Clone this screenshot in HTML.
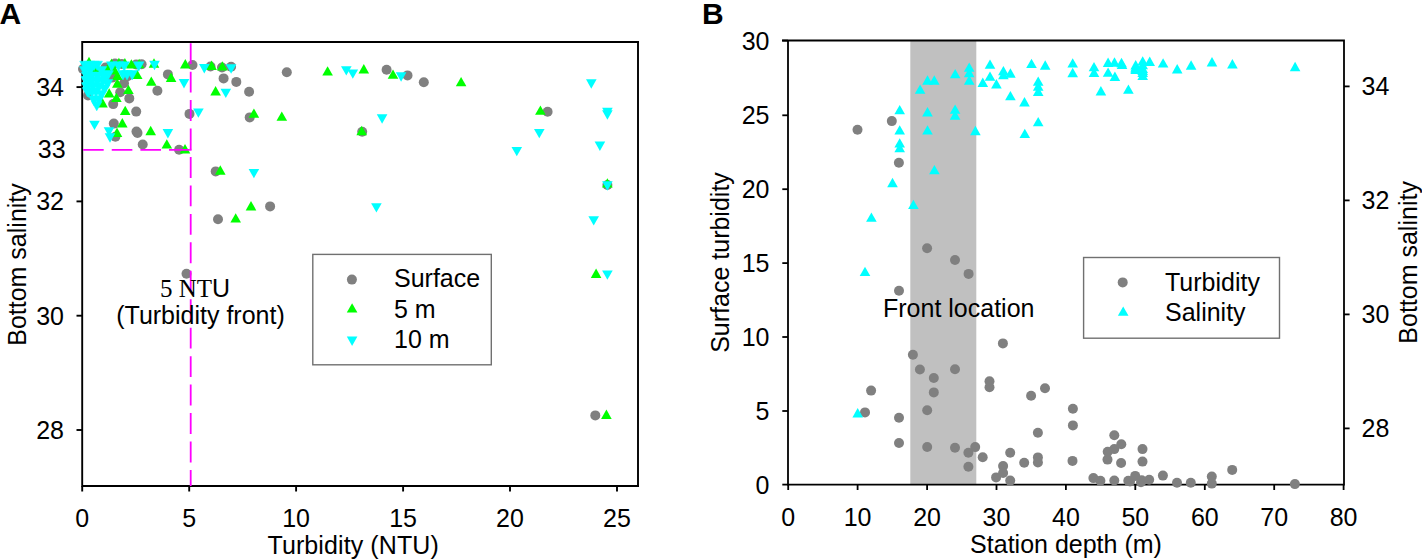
<!DOCTYPE html><html><head><meta charset="utf-8"><style>html,body{margin:0;padding:0;background:#fff;overflow:hidden}svg{display:block}text{font-family:"Liberation Sans",sans-serif;fill:#000}</style></head><body>
<svg width="1422" height="560" viewBox="0 0 1422 560">
<rect width="1422" height="560" fill="#fff"/>
<g stroke="#000" stroke-width="1.9" fill="none">
<path d="M82.2,41 V486 M81.3,42 H639 M638,41.1 V486.9 M81.3,486 H639"/>
<path d="M82.2,486 V491.5"/>
<path d="M189.2,486 V491.5"/>
<path d="M296.1,486 V491.5"/>
<path d="M403.1,486 V491.5"/>
<path d="M510.0,486 V491.5"/>
<path d="M617.0,486 V491.5"/>
<path d="M76.5,87.1 H82.2"/>
<path d="M76.5,201.4 H82.2"/>
<path d="M76.5,315.7 H82.2"/>
<path d="M76.5,430.0 H82.2"/>
</g>
<circle cx="83.0" cy="69.0" r="5.0" fill="#808080"/>
<circle cx="88.0" cy="95.5" r="5.0" fill="#808080"/>
<circle cx="105.5" cy="67.5" r="5.0" fill="#808080"/>
<circle cx="112.0" cy="77.6" r="5.0" fill="#808080"/>
<circle cx="115.0" cy="63.5" r="5.0" fill="#808080"/>
<circle cx="121.7" cy="64.0" r="5.0" fill="#808080"/>
<circle cx="136.2" cy="64.5" r="5.0" fill="#808080"/>
<circle cx="124.0" cy="83.2" r="5.0" fill="#808080"/>
<circle cx="120.2" cy="92.2" r="5.0" fill="#808080"/>
<circle cx="129.3" cy="98.4" r="5.0" fill="#808080"/>
<circle cx="113.2" cy="104.1" r="5.0" fill="#808080"/>
<circle cx="136.2" cy="111.6" r="5.0" fill="#808080"/>
<circle cx="127.6" cy="76.2" r="5.0" fill="#808080"/>
<circle cx="141.6" cy="64.3" r="5.0" fill="#808080"/>
<circle cx="167.9" cy="74.4" r="5.0" fill="#808080"/>
<circle cx="157.4" cy="90.7" r="5.0" fill="#808080"/>
<circle cx="192.5" cy="65.0" r="5.0" fill="#808080"/>
<circle cx="210.5" cy="66.5" r="5.0" fill="#808080"/>
<circle cx="222.0" cy="67.5" r="5.0" fill="#808080"/>
<circle cx="223.6" cy="78.4" r="5.0" fill="#808080"/>
<circle cx="231.1" cy="66.8" r="5.0" fill="#808080"/>
<circle cx="236.3" cy="81.9" r="5.0" fill="#808080"/>
<circle cx="249.1" cy="91.8" r="5.0" fill="#808080"/>
<circle cx="286.8" cy="72.2" r="5.0" fill="#808080"/>
<circle cx="386.6" cy="69.8" r="5.0" fill="#808080"/>
<circle cx="407.5" cy="75.4" r="5.0" fill="#808080"/>
<circle cx="423.8" cy="82.2" r="5.0" fill="#808080"/>
<circle cx="547.6" cy="111.7" r="5.0" fill="#808080"/>
<circle cx="607.4" cy="185.0" r="5.0" fill="#808080"/>
<circle cx="595.3" cy="415.4" r="5.0" fill="#808080"/>
<circle cx="189.5" cy="113.9" r="5.0" fill="#808080"/>
<circle cx="113.8" cy="123.6" r="5.0" fill="#808080"/>
<circle cx="115.4" cy="136.7" r="5.0" fill="#808080"/>
<circle cx="136.5" cy="131.5" r="5.0" fill="#808080"/>
<circle cx="137.5" cy="133.0" r="5.0" fill="#808080"/>
<circle cx="142.7" cy="144.5" r="5.0" fill="#808080"/>
<circle cx="179.1" cy="149.8" r="5.0" fill="#808080"/>
<circle cx="249.7" cy="117.4" r="5.0" fill="#808080"/>
<circle cx="362.2" cy="131.8" r="5.0" fill="#808080"/>
<circle cx="215.7" cy="171.4" r="5.0" fill="#808080"/>
<circle cx="270.1" cy="206.4" r="5.0" fill="#808080"/>
<circle cx="218.0" cy="219.3" r="5.0" fill="#808080"/>
<circle cx="186.5" cy="273.8" r="5.0" fill="#808080"/>
<polygon points="89.00,56.80 94.30,66.20 83.70,66.20" fill="#00ff00"/>
<polygon points="95.50,63.90 100.80,73.30 90.20,73.30" fill="#00ff00"/>
<polygon points="107.50,64.10 112.80,73.50 102.20,73.50" fill="#00ff00"/>
<polygon points="111.50,58.50 116.80,67.90 106.20,67.90" fill="#00ff00"/>
<polygon points="114.40,65.00 119.70,74.40 109.10,74.40" fill="#00ff00"/>
<polygon points="118.90,57.70 124.20,67.10 113.60,67.10" fill="#00ff00"/>
<polygon points="124.90,58.00 130.20,67.40 119.60,67.40" fill="#00ff00"/>
<polygon points="131.40,59.20 136.70,68.60 126.10,68.60" fill="#00ff00"/>
<polygon points="139.10,58.80 144.40,68.20 133.80,68.20" fill="#00ff00"/>
<polygon points="137.20,69.70 142.50,79.10 131.90,79.10" fill="#00ff00"/>
<polygon points="117.40,70.60 122.70,80.00 112.10,80.00" fill="#00ff00"/>
<polygon points="117.30,78.30 122.60,87.70 112.00,87.70" fill="#00ff00"/>
<polygon points="128.40,84.70 133.70,94.10 123.10,94.10" fill="#00ff00"/>
<polygon points="109.20,88.20 114.50,97.60 103.90,97.60" fill="#00ff00"/>
<polygon points="116.40,92.70 121.70,102.10 111.10,102.10" fill="#00ff00"/>
<polygon points="102.50,98.00 107.80,107.40 97.20,107.40" fill="#00ff00"/>
<polygon points="125.20,105.70 130.50,115.10 119.90,115.10" fill="#00ff00"/>
<polygon points="154.00,58.30 159.30,67.70 148.70,67.70" fill="#00ff00"/>
<polygon points="185.30,59.00 190.60,68.40 180.00,68.40" fill="#00ff00"/>
<polygon points="211.60,60.50 216.90,69.90 206.30,69.90" fill="#00ff00"/>
<polygon points="222.30,61.20 227.60,70.60 217.00,70.60" fill="#00ff00"/>
<polygon points="171.10,72.60 176.40,82.00 165.80,82.00" fill="#00ff00"/>
<polygon points="151.30,76.40 156.60,85.80 146.00,85.80" fill="#00ff00"/>
<polygon points="215.60,86.00 220.90,95.40 210.30,95.40" fill="#00ff00"/>
<polygon points="327.60,66.20 332.90,75.60 322.30,75.60" fill="#00ff00"/>
<polygon points="363.80,64.10 369.10,73.50 358.50,73.50" fill="#00ff00"/>
<polygon points="393.00,69.40 398.30,78.80 387.70,78.80" fill="#00ff00"/>
<polygon points="461.10,76.90 466.40,86.30 455.80,86.30" fill="#00ff00"/>
<polygon points="540.40,105.40 545.70,114.80 535.10,114.80" fill="#00ff00"/>
<polygon points="607.40,178.20 612.70,187.60 602.10,187.60" fill="#00ff00"/>
<polygon points="596.10,268.50 601.40,277.90 590.80,277.90" fill="#00ff00"/>
<polygon points="606.40,409.60 611.70,419.00 601.10,419.00" fill="#00ff00"/>
<polygon points="122.30,118.00 127.60,127.40 117.00,127.40" fill="#00ff00"/>
<polygon points="117.00,127.50 122.30,136.90 111.70,136.90" fill="#00ff00"/>
<polygon points="150.70,125.80 156.00,135.20 145.40,135.20" fill="#00ff00"/>
<polygon points="166.80,139.20 172.10,148.60 161.50,148.60" fill="#00ff00"/>
<polygon points="185.00,144.10 190.30,153.50 179.70,153.50" fill="#00ff00"/>
<polygon points="253.90,108.40 259.20,117.80 248.60,117.80" fill="#00ff00"/>
<polygon points="281.80,111.40 287.10,120.80 276.50,120.80" fill="#00ff00"/>
<polygon points="361.70,125.80 367.00,135.20 356.40,135.20" fill="#00ff00"/>
<polygon points="220.30,165.30 225.60,174.70 215.00,174.70" fill="#00ff00"/>
<polygon points="251.00,201.00 256.30,210.40 245.70,210.40" fill="#00ff00"/>
<polygon points="235.70,213.20 241.00,222.60 230.40,222.60" fill="#00ff00"/>
<polygon points="149.20,60.80 159.80,60.80 154.50,70.20" fill="#00ffff"/>
<polygon points="199.00,64.10 209.60,64.10 204.30,73.50" fill="#00ffff"/>
<polygon points="178.70,79.10 189.30,79.10 184.00,88.50" fill="#00ffff"/>
<polygon points="220.50,88.70 231.10,88.70 225.80,98.10" fill="#00ffff"/>
<polygon points="225.80,64.30 236.40,64.30 231.10,73.70" fill="#00ffff"/>
<polygon points="341.00,66.20 351.60,66.20 346.30,75.60" fill="#00ffff"/>
<polygon points="347.50,69.40 358.10,69.40 352.80,78.80" fill="#00ffff"/>
<polygon points="395.80,72.30 406.40,72.30 401.10,81.70" fill="#00ffff"/>
<polygon points="586.00,79.30 596.60,79.30 591.30,88.70" fill="#00ffff"/>
<polygon points="602.10,107.80 612.70,107.80 607.40,117.20" fill="#00ffff"/>
<polygon points="602.10,110.30 612.70,110.30 607.40,119.70" fill="#00ffff"/>
<polygon points="534.00,128.90 544.60,128.90 539.30,138.30" fill="#00ffff"/>
<polygon points="511.50,146.90 522.10,146.90 516.80,156.30" fill="#00ffff"/>
<polygon points="594.60,141.60 605.20,141.60 599.90,151.00" fill="#00ffff"/>
<polygon points="602.10,181.30 612.70,181.30 607.40,190.70" fill="#00ffff"/>
<polygon points="588.40,216.20 599.00,216.20 593.70,225.60" fill="#00ffff"/>
<polygon points="602.10,270.40 612.70,270.40 607.40,279.80" fill="#00ffff"/>
<polygon points="193.10,108.40 203.70,108.40 198.40,117.80" fill="#00ffff"/>
<polygon points="89.20,120.70 99.80,120.70 94.50,130.10" fill="#00ffff"/>
<polygon points="103.70,127.30 114.30,127.30 109.00,136.70" fill="#00ffff"/>
<polygon points="104.70,133.30 115.30,133.30 110.00,142.70" fill="#00ffff"/>
<polygon points="162.60,129.10 173.20,129.10 167.90,138.50" fill="#00ffff"/>
<polygon points="248.60,168.90 259.20,168.90 253.90,178.30" fill="#00ffff"/>
<polygon points="371.10,203.20 381.70,203.20 376.40,212.60" fill="#00ffff"/>
<polygon points="376.80,114.30 387.40,114.30 382.10,123.70" fill="#00ffff"/>
<g stroke="#00ffff" stroke-width="0.5" stroke-linejoin="round">
<polygon points="79.70,61.20 90.30,61.20 85.00,70.60" fill="#00ffff"/>
<polygon points="84.20,61.20 94.80,61.20 89.50,70.60" fill="#00ffff"/>
<polygon points="88.80,61.20 99.40,61.20 94.10,70.60" fill="#00ffff"/>
<polygon points="91.90,61.20 102.50,61.20 97.20,70.60" fill="#00ffff"/>
<polygon points="106.40,61.80 117.00,61.80 111.70,71.20" fill="#00ffff"/>
<polygon points="113.20,61.80 123.80,61.80 118.50,71.20" fill="#00ffff"/>
<polygon points="118.90,61.80 129.50,61.80 124.20,71.20" fill="#00ffff"/>
<polygon points="133.40,61.80 144.00,61.80 138.70,71.20" fill="#00ffff"/>
<polygon points="84.70,66.50 95.30,66.50 90.00,75.90" fill="#00ffff"/>
<polygon points="96.20,66.50 106.80,66.50 101.50,75.90" fill="#00ffff"/>
<polygon points="79.50,66.50 90.10,66.50 84.80,75.90" fill="#00ffff"/>
<polygon points="100.00,70.70 110.60,70.70 105.30,80.10" fill="#00ffff"/>
<polygon points="102.80,70.70 113.40,70.70 108.10,80.10" fill="#00ffff"/>
<polygon points="117.70,70.50 128.30,70.50 123.00,79.90" fill="#00ffff"/>
<polygon points="121.70,70.50 132.30,70.50 127.00,79.90" fill="#00ffff"/>
<polygon points="126.90,70.50 137.50,70.50 132.20,79.90" fill="#00ffff"/>
<polygon points="81.40,72.10 92.00,72.10 86.70,81.50" fill="#00ffff"/>
<polygon points="86.70,72.10 97.30,72.10 92.00,81.50" fill="#00ffff"/>
<polygon points="92.20,72.10 102.80,72.10 97.50,81.50" fill="#00ffff"/>
<polygon points="97.70,72.10 108.30,72.10 103.00,81.50" fill="#00ffff"/>
<polygon points="81.40,77.30 92.00,77.30 86.70,86.70" fill="#00ffff"/>
<polygon points="86.70,77.30 97.30,77.30 92.00,86.70" fill="#00ffff"/>
<polygon points="92.20,77.30 102.80,77.30 97.50,86.70" fill="#00ffff"/>
<polygon points="97.70,77.30 108.30,77.30 103.00,86.70" fill="#00ffff"/>
<polygon points="102.20,79.50 112.80,79.50 107.50,88.90" fill="#00ffff"/>
<polygon points="82.20,82.50 92.80,82.50 87.50,91.90" fill="#00ffff"/>
<polygon points="87.70,82.50 98.30,82.50 93.00,91.90" fill="#00ffff"/>
<polygon points="93.20,82.50 103.80,82.50 98.50,91.90" fill="#00ffff"/>
<polygon points="99.20,84.90 109.80,84.90 104.50,94.30" fill="#00ffff"/>
<polygon points="82.20,87.60 92.80,87.60 87.50,97.00" fill="#00ffff"/>
<polygon points="86.70,88.00 97.30,88.00 92.00,97.40" fill="#00ffff"/>
<polygon points="90.70,88.00 101.30,88.00 96.00,97.40" fill="#00ffff"/>
<polygon points="96.20,90.50 106.80,90.50 101.50,99.90" fill="#00ffff"/>
<polygon points="88.60,96.00 99.20,96.00 93.90,105.40" fill="#00ffff"/>
<polygon points="93.50,95.80 104.10,95.80 98.80,105.20" fill="#00ffff"/>
<polygon points="91.45,101.40 102.05,101.40 96.75,110.80" fill="#00ffff"/>
<polygon points="81.00,76.30 91.60,76.30 86.30,85.70" fill="#00ffff"/>
<polygon points="81.50,82.80 92.10,82.80 86.80,92.20" fill="#00ffff"/>
<polygon points="83.20,88.00 93.80,88.00 88.50,97.40" fill="#00ffff"/>
</g>
<line x1="190.7" y1="43.2" x2="190.7" y2="486" stroke="#ff00ff" stroke-width="1.8" stroke-dasharray="20.9 7.55"/>
<line x1="83.1" y1="149.8" x2="191.6" y2="149.8" stroke="#ff00ff" stroke-width="1.8" stroke-dasharray="20.6 8.05"/>
<path d="M189.5,149.8 H191.6" stroke="#ff00ff" stroke-width="1.8"/>
<text x="82.2" y="526.5" font-size="25" text-anchor="middle">0</text>
<text x="189.2" y="526.5" font-size="25" text-anchor="middle">5</text>
<text x="296.1" y="526.5" font-size="25" text-anchor="middle">10</text>
<text x="403.1" y="526.5" font-size="25" text-anchor="middle">15</text>
<text x="510.0" y="526.5" font-size="25" text-anchor="middle">20</text>
<text x="617.0" y="526.5" font-size="25" text-anchor="middle">25</text>
<text x="64" y="96.0" font-size="25" text-anchor="end">34</text>
<text x="64" y="210.3" font-size="25" text-anchor="end">32</text>
<text x="64" y="324.6" font-size="25" text-anchor="end">30</text>
<text x="64" y="438.9" font-size="25" text-anchor="end">28</text>
<text x="65.6" y="157.8" font-size="25" text-anchor="end">33</text>
<text x="353.2" y="554.2" font-size="25" letter-spacing="0.1" text-anchor="middle">Turbidity (NTU)</text>
<text transform="translate(25.7,264.5) rotate(-90)" x="0" y="0" font-size="25" text-anchor="middle">Bottom salinity</text>
<text x="160" y="296.5" font-size="25"><tspan font-family="Liberation Serif">5 NT</tspan><tspan>U</tspan></text>
<text x="200.5" y="324.3" font-size="25" text-anchor="middle">(Turbidity front)</text>
<rect x="312.8" y="254.4" width="178.5" height="110.4" fill="#fff" stroke="#707070" stroke-width="1.4"/>
<circle cx="351.9" cy="279.6" r="5.0" fill="#808080"/>
<polygon points="352.10,303.20 357.40,312.60 346.80,312.60" fill="#00ff00"/>
<polygon points="346.80,336.50 357.40,336.50 352.10,345.90" fill="#00ffff"/>
<text x="394" y="287.4" font-size="25">Surface</text>
<text x="394" y="317.5" font-size="25">5 m</text>
<text x="394" y="348.1" font-size="25">10 m</text>
<text x="-0.6" y="23.8" font-size="30" font-weight="bold">A</text>
<rect x="910.3" y="41" width="66" height="443.6" fill="#c0c0c0"/>
<text x="883" y="317" font-size="25">Front location</text>
<g stroke="#000" stroke-width="1.8" fill="none">
<path d="M788,39.6 V485.5 M782,40.5 H1344.9 M1344,39.6 V485.5 M787.1,484.6 H1344.9"/>
<path d="M788.2,484.6 V490"/>
<path d="M857.6,484.6 V490"/>
<path d="M927.1,484.6 V490"/>
<path d="M996.5,484.6 V490"/>
<path d="M1065.9,484.6 V490"/>
<path d="M1135.3,484.6 V490"/>
<path d="M1204.8,484.6 V490"/>
<path d="M1274.2,484.6 V490"/>
<path d="M1343.6,484.6 V490"/>
<path d="M782.3,484.6 H788"/>
<path d="M782.3,411.0 H788"/>
<path d="M782.3,337.0 H788"/>
<path d="M782.3,263.1 H788"/>
<path d="M782.3,189.2 H788"/>
<path d="M782.3,115.3 H788"/>
<path d="M782.3,40.6 H788"/>
<path d="M1344,86.4 H1349.6"/>
<path d="M1344,200.4 H1349.6"/>
<path d="M1344,314.4 H1349.6"/>
<path d="M1344,428.4 H1349.6"/>
</g>
<circle cx="857.5" cy="129.7" r="5.0" fill="#808080"/>
<circle cx="891.8" cy="121.1" r="5.0" fill="#808080"/>
<circle cx="898.9" cy="162.8" r="5.0" fill="#808080"/>
<circle cx="927.1" cy="248.3" r="5.0" fill="#808080"/>
<circle cx="955.0" cy="260.0" r="5.0" fill="#808080"/>
<circle cx="968.6" cy="273.9" r="5.0" fill="#808080"/>
<circle cx="899.0" cy="290.7" r="5.0" fill="#808080"/>
<circle cx="912.9" cy="354.7" r="5.0" fill="#808080"/>
<circle cx="919.9" cy="369.5" r="5.0" fill="#808080"/>
<circle cx="933.8" cy="378.0" r="5.0" fill="#808080"/>
<circle cx="955.0" cy="369.2" r="5.0" fill="#808080"/>
<circle cx="933.8" cy="392.4" r="5.0" fill="#808080"/>
<circle cx="871.1" cy="390.6" r="5.0" fill="#808080"/>
<circle cx="865.0" cy="412.4" r="5.0" fill="#808080"/>
<circle cx="899.0" cy="417.7" r="5.0" fill="#808080"/>
<circle cx="927.2" cy="410.2" r="5.0" fill="#808080"/>
<circle cx="899.0" cy="443.0" r="5.0" fill="#808080"/>
<circle cx="927.2" cy="447.0" r="5.0" fill="#808080"/>
<circle cx="955.0" cy="447.7" r="5.0" fill="#808080"/>
<circle cx="975.2" cy="447.1" r="5.0" fill="#808080"/>
<circle cx="968.4" cy="452.7" r="5.0" fill="#808080"/>
<circle cx="982.7" cy="457.3" r="5.0" fill="#808080"/>
<circle cx="968.4" cy="466.8" r="5.0" fill="#808080"/>
<circle cx="1010.2" cy="452.7" r="5.0" fill="#808080"/>
<circle cx="1037.9" cy="432.7" r="5.0" fill="#808080"/>
<circle cx="1024.2" cy="462.7" r="5.0" fill="#808080"/>
<circle cx="1037.9" cy="457.4" r="5.0" fill="#808080"/>
<circle cx="1037.9" cy="462.5" r="5.0" fill="#808080"/>
<circle cx="1003.1" cy="466.1" r="5.0" fill="#808080"/>
<circle cx="1003.1" cy="473.0" r="5.0" fill="#808080"/>
<circle cx="996.1" cy="477.4" r="5.0" fill="#808080"/>
<circle cx="1010.2" cy="480.6" r="5.0" fill="#808080"/>
<circle cx="1045.0" cy="388.2" r="5.0" fill="#808080"/>
<circle cx="1031.1" cy="395.7" r="5.0" fill="#808080"/>
<circle cx="1072.9" cy="408.8" r="5.0" fill="#808080"/>
<circle cx="1072.9" cy="425.4" r="5.0" fill="#808080"/>
<circle cx="1114.3" cy="435.2" r="5.0" fill="#808080"/>
<circle cx="1121.3" cy="444.3" r="5.0" fill="#808080"/>
<circle cx="1114.3" cy="449.1" r="5.0" fill="#808080"/>
<circle cx="1107.7" cy="451.8" r="5.0" fill="#808080"/>
<circle cx="1107.5" cy="459.6" r="5.0" fill="#808080"/>
<circle cx="1072.5" cy="460.9" r="5.0" fill="#808080"/>
<circle cx="1121.1" cy="463.0" r="5.0" fill="#808080"/>
<circle cx="1142.5" cy="449.1" r="5.0" fill="#808080"/>
<circle cx="1142.5" cy="461.6" r="5.0" fill="#808080"/>
<circle cx="1093.4" cy="478.1" r="5.0" fill="#808080"/>
<circle cx="1100.4" cy="480.7" r="5.0" fill="#808080"/>
<circle cx="1114.3" cy="480.5" r="5.0" fill="#808080"/>
<circle cx="1128.3" cy="480.7" r="5.0" fill="#808080"/>
<circle cx="1135.2" cy="475.9" r="5.0" fill="#808080"/>
<circle cx="1141.7" cy="480.3" r="5.0" fill="#808080"/>
<circle cx="1149.2" cy="479.7" r="5.0" fill="#808080"/>
<circle cx="1162.9" cy="475.6" r="5.0" fill="#808080"/>
<circle cx="1177.0" cy="482.7" r="5.0" fill="#808080"/>
<circle cx="1190.8" cy="482.7" r="5.0" fill="#808080"/>
<circle cx="1130.0" cy="481.5" r="5.0" fill="#808080"/>
<circle cx="1141.0" cy="482.3" r="5.0" fill="#808080"/>
<circle cx="1211.8" cy="476.6" r="5.0" fill="#808080"/>
<circle cx="1211.8" cy="483.6" r="5.0" fill="#808080"/>
<circle cx="1232.2" cy="469.9" r="5.0" fill="#808080"/>
<circle cx="1294.9" cy="484.1" r="5.0" fill="#808080"/>
<circle cx="1002.9" cy="343.4" r="5.0" fill="#808080"/>
<circle cx="989.5" cy="381.3" r="5.0" fill="#808080"/>
<circle cx="989.5" cy="387.2" r="5.0" fill="#808080"/>
<polygon points="920.10,84.40 925.40,93.80 914.80,93.80" fill="#00ffff"/>
<polygon points="927.50,75.30 932.80,84.70 922.20,84.70" fill="#00ffff"/>
<polygon points="934.30,75.30 939.60,84.70 929.00,84.70" fill="#00ffff"/>
<polygon points="955.20,68.90 960.50,78.30 949.90,78.30" fill="#00ffff"/>
<polygon points="969.20,62.40 974.50,71.80 963.90,71.80" fill="#00ffff"/>
<polygon points="969.20,67.80 974.50,77.20 963.90,77.20" fill="#00ffff"/>
<polygon points="969.20,75.30 974.50,84.70 963.90,84.70" fill="#00ffff"/>
<polygon points="982.80,77.50 988.10,86.90 977.50,86.90" fill="#00ffff"/>
<polygon points="990.00,59.40 995.30,68.80 984.70,68.80" fill="#00ffff"/>
<polygon points="990.00,71.40 995.30,80.80 984.70,80.80" fill="#00ffff"/>
<polygon points="996.40,79.10 1001.70,88.50 991.10,88.50" fill="#00ffff"/>
<polygon points="1003.40,65.90 1008.70,75.30 998.10,75.30" fill="#00ffff"/>
<polygon points="1003.40,69.90 1008.70,79.30 998.10,79.30" fill="#00ffff"/>
<polygon points="1010.40,68.30 1015.70,77.70 1005.10,77.70" fill="#00ffff"/>
<polygon points="1031.50,58.70 1036.80,68.10 1026.20,68.10" fill="#00ffff"/>
<polygon points="1045.20,60.30 1050.50,69.70 1039.90,69.70" fill="#00ffff"/>
<polygon points="1038.20,76.40 1043.50,85.80 1032.90,85.80" fill="#00ffff"/>
<polygon points="1038.20,81.30 1043.50,90.70 1032.90,90.70" fill="#00ffff"/>
<polygon points="1038.20,86.60 1043.50,96.00 1032.90,96.00" fill="#00ffff"/>
<polygon points="1010.40,90.90 1015.70,100.30 1005.10,100.30" fill="#00ffff"/>
<polygon points="1024.50,97.00 1029.80,106.40 1019.20,106.40" fill="#00ffff"/>
<polygon points="1072.70,58.20 1078.00,67.60 1067.40,67.60" fill="#00ffff"/>
<polygon points="1072.70,67.80 1078.00,77.20 1067.40,77.20" fill="#00ffff"/>
<polygon points="1094.00,61.90 1099.30,71.30 1088.70,71.30" fill="#00ffff"/>
<polygon points="1094.00,67.50 1099.30,76.90 1088.70,76.90" fill="#00ffff"/>
<polygon points="1108.10,57.60 1113.40,67.00 1102.80,67.00" fill="#00ffff"/>
<polygon points="1114.50,57.30 1119.80,66.70 1109.20,66.70" fill="#00ffff"/>
<polygon points="1121.50,57.80 1126.80,67.20 1116.20,67.20" fill="#00ffff"/>
<polygon points="1108.10,67.40 1113.40,76.80 1102.80,76.80" fill="#00ffff"/>
<polygon points="1114.90,71.60 1120.20,81.00 1109.60,81.00" fill="#00ffff"/>
<polygon points="1100.90,86.00 1106.20,95.40 1095.60,95.40" fill="#00ffff"/>
<polygon points="1135.70,60.00 1141.00,69.40 1130.40,69.40" fill="#00ffff"/>
<polygon points="1135.70,62.10 1141.00,71.50 1130.40,71.50" fill="#00ffff"/>
<polygon points="1135.70,63.30 1141.00,72.70 1130.40,72.70" fill="#00ffff"/>
<polygon points="1142.70,59.90 1148.00,69.30 1137.40,69.30" fill="#00ffff"/>
<polygon points="1142.70,65.50 1148.00,74.90 1137.40,74.90" fill="#00ffff"/>
<polygon points="1142.70,67.50 1148.00,76.90 1137.40,76.90" fill="#00ffff"/>
<polygon points="1122.00,59.60 1127.30,69.00 1116.70,69.00" fill="#00ffff"/>
<polygon points="1142.70,56.20 1148.00,65.60 1137.40,65.60" fill="#00ffff"/>
<polygon points="1149.70,56.60 1155.00,66.00 1144.40,66.00" fill="#00ffff"/>
<polygon points="1135.70,64.60 1141.00,74.00 1130.40,74.00" fill="#00ffff"/>
<polygon points="1142.70,63.50 1148.00,72.90 1137.40,72.90" fill="#00ffff"/>
<polygon points="1142.70,70.70 1148.00,80.10 1137.40,80.10" fill="#00ffff"/>
<polygon points="1163.10,58.20 1168.40,67.60 1157.80,67.60" fill="#00ffff"/>
<polygon points="1177.20,64.10 1182.50,73.50 1171.90,73.50" fill="#00ffff"/>
<polygon points="1191.10,60.30 1196.40,69.70 1185.80,69.70" fill="#00ffff"/>
<polygon points="1212.00,57.10 1217.30,66.50 1206.70,66.50" fill="#00ffff"/>
<polygon points="1232.40,59.10 1237.70,68.50 1227.10,68.50" fill="#00ffff"/>
<polygon points="1295.10,61.80 1300.40,71.20 1289.80,71.20" fill="#00ffff"/>
<polygon points="1128.40,84.40 1133.70,93.80 1123.10,93.80" fill="#00ffff"/>
<polygon points="899.70,104.90 905.00,114.30 894.40,114.30" fill="#00ffff"/>
<polygon points="899.70,125.20 905.00,134.60 894.40,134.60" fill="#00ffff"/>
<polygon points="899.70,138.20 905.00,147.60 894.40,147.60" fill="#00ffff"/>
<polygon points="899.70,142.90 905.00,152.30 894.40,152.30" fill="#00ffff"/>
<polygon points="927.50,107.10 932.80,116.50 922.20,116.50" fill="#00ffff"/>
<polygon points="927.50,125.20 932.80,134.60 922.20,134.60" fill="#00ffff"/>
<polygon points="955.10,104.40 960.40,113.80 949.80,113.80" fill="#00ffff"/>
<polygon points="955.10,110.30 960.40,119.70 949.80,119.70" fill="#00ffff"/>
<polygon points="975.40,125.80 980.70,135.20 970.10,135.20" fill="#00ffff"/>
<polygon points="934.40,164.90 939.70,174.30 929.10,174.30" fill="#00ffff"/>
<polygon points="892.50,177.80 897.80,187.20 887.20,187.20" fill="#00ffff"/>
<polygon points="913.40,199.70 918.70,209.10 908.10,209.10" fill="#00ffff"/>
<polygon points="871.40,212.40 876.70,221.80 866.10,221.80" fill="#00ffff"/>
<polygon points="865.00,266.70 870.30,276.10 859.70,276.10" fill="#00ffff"/>
<polygon points="857.70,408.00 863.00,417.40 852.40,417.40" fill="#00ffff"/>
<polygon points="1038.20,116.90 1043.50,126.30 1032.90,126.30" fill="#00ffff"/>
<polygon points="1024.80,128.70 1030.10,138.10 1019.50,138.10" fill="#00ffff"/>
<text x="788.2" y="526" font-size="25" text-anchor="middle">0</text>
<text x="857.6" y="526" font-size="25" text-anchor="middle">10</text>
<text x="927.1" y="526" font-size="25" text-anchor="middle">20</text>
<text x="996.5" y="526" font-size="25" text-anchor="middle">30</text>
<text x="1065.9" y="526" font-size="25" text-anchor="middle">40</text>
<text x="1135.3" y="526" font-size="25" text-anchor="middle">50</text>
<text x="1204.8" y="526" font-size="25" text-anchor="middle">60</text>
<text x="1274.2" y="526" font-size="25" text-anchor="middle">70</text>
<text x="1343.6" y="526" font-size="25" text-anchor="middle">80</text>
<text x="769.5" y="493.5" font-size="25" text-anchor="end">0</text>
<text x="769.5" y="419.9" font-size="25" text-anchor="end">5</text>
<text x="769.5" y="345.9" font-size="25" text-anchor="end">10</text>
<text x="769.5" y="272.0" font-size="25" text-anchor="end">15</text>
<text x="769.5" y="198.1" font-size="25" text-anchor="end">20</text>
<text x="769.5" y="124.2" font-size="25" text-anchor="end">25</text>
<text x="769.5" y="49.5" font-size="25" text-anchor="end">30</text>
<text x="1361.5" y="95.3" font-size="25">34</text>
<text x="1361.5" y="209.3" font-size="25">32</text>
<text x="1361.5" y="323.3" font-size="25">30</text>
<text x="1361.5" y="437.3" font-size="25">28</text>
<text x="1066" y="552.7" font-size="25" text-anchor="middle">Station depth (m)</text>
<text transform="translate(729,262.5) rotate(-90)" font-size="25" text-anchor="middle">Surface turbidity</text>
<text transform="translate(1417,262.4) rotate(-90)" font-size="25" text-anchor="middle">Bottom salinity</text>
<rect x="1083.6" y="257.5" width="195.9" height="80.7" fill="#fff" stroke="#707070" stroke-width="1.4"/>
<circle cx="1122.7" cy="282.4" r="5.0" fill="#808080"/>
<polygon points="1123.20,306.40 1128.50,315.80 1117.90,315.80" fill="#00ffff"/>
<text x="1165" y="291.2" font-size="25">Turbidity</text>
<text x="1165" y="320.9" font-size="25">Salinity</text>
<text x="702" y="23.8" font-size="30" font-weight="bold">B</text>
</svg></body></html>
